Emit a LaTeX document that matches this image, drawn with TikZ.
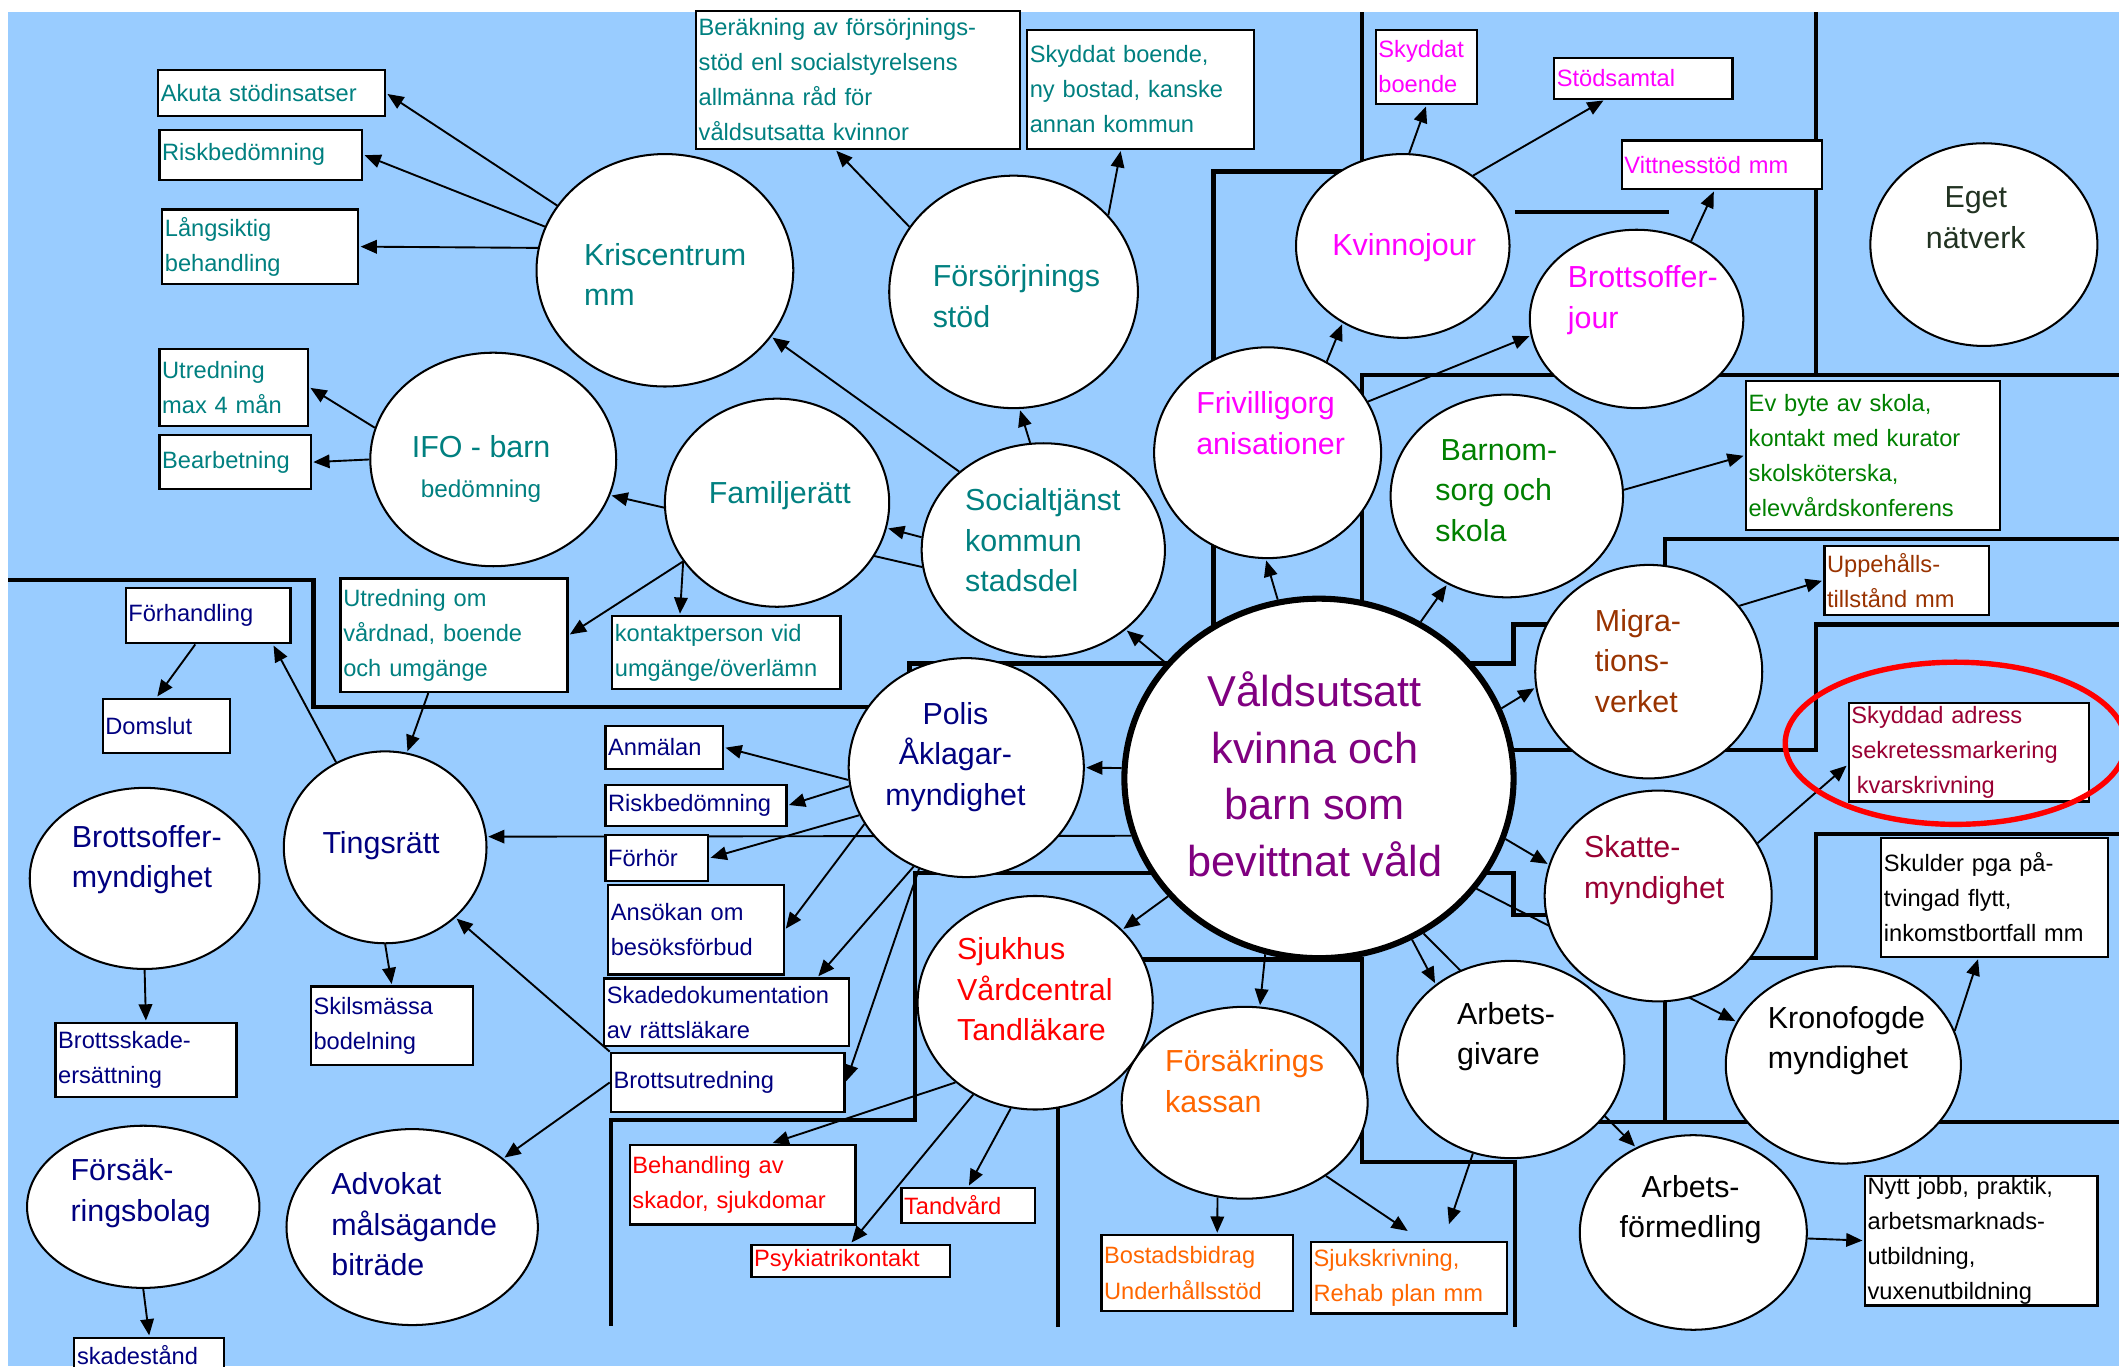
\documentclass[tikz,border=0pt]{standalone}
\usepackage{fontspec}
\setmainfont{Liberation Sans}
\usetikzlibrary{arrows.meta,shapes.geometric,backgrounds}

\definecolor{skyblue}{RGB}{153,204,255}
\definecolor{tealc}{RGB}{0,128,128}
\definecolor{magc}{RGB}{255,0,255}
\definecolor{greenc}{RGB}{0,128,0}
\definecolor{brownc}{RGB}{153,51,0}
\definecolor{maroonc}{RGB}{153,0,51}
\definecolor{navyc}{RGB}{0,0,128}
\definecolor{redc}{RGB}{255,0,0}
\definecolor{orangec}{RGB}{255,102,0}
\definecolor{purplec}{RGB}{128,0,128}
\definecolor{egetc}{RGB}{34,51,34}

\begin{document}
\begin{tikzpicture}[x=1pt,y=-1pt,>={Triangle[length=12pt,width=10pt]},
    bubble/.style={ellipse,draw,fill=white,line width=1.5pt,inner sep=0pt},
    btext/.style={font=\fontsize{22.5}{30}\selectfont,align=left,inner sep=0pt},
    box/.style={draw,fill=white,line width=1.7pt,font=\fontsize{17.5}{26}\selectfont,
                align=left,inner xsep=2pt,inner ysep=0pt},
    wall/.style={line width=3.2pt},
    link/.style={->,line width=1.4pt,shorten >=1pt}]

    \useasboundingbox (0,0) rectangle (1568,1011);

    % circles
    \node[bubble,minimum width=190pt,minimum height=172pt] (kris) at (492,200) {};
    \node[bubble,minimum width=184pt,minimum height=172pt] (fors) at (750,216) {};
    \node[bubble,minimum width=182pt,minimum height=158pt] (ifo) at (365,340) {};
    \node[bubble,minimum width=166pt,minimum height=154pt] (famr) at (575,372) {};
    \node[bubble,minimum width=180pt,minimum height=158pt] (soc) at (772,407) {};
    \node[bubble,minimum width=168pt,minimum height=156pt] (friv) at (938,335) {};
    \node[bubble,minimum width=158pt,minimum height=136pt] (kvin) at (1038,182) {};
    \node[bubble,minimum width=158pt,minimum height=132pt] (bjour) at (1211,236) {};
    \node[bubble,minimum width=168pt,minimum height=150pt] (eget) at (1468,181) {};
    \node[bubble,minimum width=172pt,minimum height=150pt] (barn) at (1115,367) {};
    \node[bubble,line width=4.5pt,minimum width=288pt,minimum height=266pt] (vald) at (976,576) {};
    \node[bubble,minimum width=168pt,minimum height=158pt] (migr) at (1220,497) {};
    \node[bubble,minimum width=168pt,minimum height=156pt] (skat) at (1227,663) {};
    \node[bubble,minimum width=168pt,minimum height=146pt] (agiv) at (1118,784) {};
    \node[bubble,minimum width=174pt,minimum height=146pt] (kron) at (1364,788) {};
    \node[bubble,minimum width=168pt,minimum height=144pt] (afor) at (1253,912) {};
    \node[bubble,minimum width=182pt,minimum height=142pt] (fkas) at (921,816) {};
    \node[bubble,minimum width=174pt,minimum height=158pt] (sjuk) at (766,742) {};
    \node[bubble,minimum width=174pt,minimum height=162pt] (polis) at (715,568) {};
    \node[bubble,minimum width=150pt,minimum height=142pt] (ting) at (285,627) {};
    \node[bubble,minimum width=170pt,minimum height=134pt] (bomy) at (107,650) {};
    \node[bubble,minimum width=172pt,minimum height=120pt] (fbol) at (106,893) {};
    \node[bubble,minimum width=186pt,minimum height=145pt] (advo) at (305,908) {};

    % circle texts
    \node[btext,text=tealc,anchor=west] (kris-t) at (432,203) {Kriscentrum\\mm};
    \node[btext,text=tealc,anchor=west] (fors-t) at (690,219) {Försörjnings\\stöd};
    \node[btext,text=tealc,align=center] (ifo-t) at (356,347) {IFO - barn\\{\fontsize{18}{30}\selectfont bedömning}};
    \node[btext,text=tealc] (famr-t) at (577,367) {Familjerätt};
    \node[btext,text=tealc,anchor=west] (soc-t) at (714,400) {Socialtjänst\\kommun\\stadsdel};
    \node[btext,text=magc,anchor=west] (friv-t) at (885,313) {Frivilligorg\\anisationer};
    \node[btext,text=magc] (kvin-t) at (1039,183) {Kvinnojour};
    \node[btext,text=magc,anchor=west] (bjour-t) at (1160,222) {Brottsoffer-\\jour};
    \node[btext,text=egetc,align=center] (eget-t) at (1462,161) {Eget\\nätverk};
    \node[btext,text=greenc,anchor=west] (barn-t) at (1062,363) {\,Barnom-\\sorg och\\skola};
    \node[font=\fontsize{32}{42}\selectfont,align=center,inner sep=0pt,text=purplec] (vald-t) at (973,573)
        {Våldsutsatt\\kvinna och\\barn som\\bevittnat våld};
    \node[btext,text=brownc,anchor=west] (migr-t) at (1180,489) {Migra-\\tions-\\verket};
    \node[btext,text=maroonc,anchor=west] (skat-t) at (1172,644) {Skatte-\\myndighet};
    \node[btext,anchor=west] (agiv-t) at (1078,767) {Arbets-\\givare};
    \node[btext,anchor=west] (kron-t) at (1308,770) {Kronofogde\\myndighet};
    \node[btext,align=center] (afor-t) at (1251,895) {Arbets-\\förmedling};
    \node[btext,text=orangec,anchor=west] (fkas-t) at (862,800) {Försäkrings\\kassan};
    \node[btext,text=redc,anchor=west] (sjuk-t) at (708,732) {Sjukhus\\Vårdcentral\\Tandläkare};
    \node[btext,text=navyc,align=center] (polis-t) at (707,560) {Polis\\Åklagar-\\myndighet};
    \node[btext,text=navyc] (ting-t) at (282,626) {Tingsrätt};
    \node[btext,text=navyc,anchor=west] (bomy-t) at (53,636) {Brottsoffer-\\myndighet};
    \node[btext,text=navyc,anchor=west] (fbol-t) at (52,883) {Försäk-\\ringsbolag};
    \node[btext,text=navyc,anchor=west] (advo-t) at (245,906) {Advokat\\målsägande\\biträde};

    % boxes
    \node[box,text=tealc,text width=164pt,minimum height=34pt] (akuta) at (201,69) {Akuta stödinsatser};
    \node[box,text=tealc,text width=146pt,minimum height=37pt] (riskA) at (193,114.5) {Riskbedömning};
    \node[box,text=tealc,text width=141pt,minimum height=55pt] (lang) at (192.5,182.5) {Långsiktig\\behandling};
    \node[box,text=tealc,text width=106pt,minimum height=57pt] (utrmax) at (173,286.5) {Utredning\\max 4 mån};
    \node[box,text=tealc,text width=108pt,minimum height=40pt] (bearb) at (174,342) {Bearbetning};
    \node[box,text=tealc,text width=236pt,minimum height=102pt] (berakn) at (635,59)
        {Beräkning av försörjnings-\\stöd enl socialstyrelsens\\allmänna råd för\\våldsutsatta kvinnor};
    \node[box,text=tealc,text width=164pt,minimum height=88pt] (skyddb) at (844,66)
        {Skyddat boende,\\ny bostad, kanske\\annan kommun};
    \node[box,text=tealc,text width=164pt,minimum height=84pt] (utrvard) at (336,470)
        {Utredning om\\vårdnad, boende\\och umgänge};
    \node[box,text=tealc,text width=165pt,minimum height=54pt] (kontakt) at (537.5,483)
        {kontaktperson vid\\umgänge/överlämn};
    \node[box,text=magc,text width=71pt,minimum height=55pt] (skydd2) at (1055.5,49.5) {Skyddat\\boende};
    \node[box,text=magc,text width=128pt,minimum height=30pt] (stod) at (1216,58) {Stödsamtal};
    \node[box,text=magc,text width=144pt,minimum height=36pt] (vittne) at (1274,122) {Vittnesstöd mm};
    \node[box,text=greenc,text width=184pt,minimum height=110pt] (evbyte) at (1386,337)
        {Ev byte av skola,\\kontakt med kurator\\skolsköterska,\\elevvårdskonferens};
    \node[box,text=brownc,text width=118pt,minimum height=51pt] (uppeh) at (1411,429.5) {Uppehålls-\\tillstånd mm};
    \node[box,text=maroonc,text width=174pt,minimum height=73pt] (skyddadr) at (1457,556.5)
        {Skyddad adress\\sekretessmarkering\\\hspace{4pt}kvarskrivning};
    \node[box,text width=164pt,minimum height=88pt] (skulder) at (1476,664)
        {Skulder pga på-\\tvingad flytt,\\inkomstbortfall mm};
    \node[box,text width=168pt,minimum height=96pt] (nyttjobb) at (1466,918)
        {Nytt jobb, praktik,\\arbetsmarknads-\\utbildning,\\vuxenutbildning};
    \node[box,text=navyc,text width=118pt,minimum height=41pt] (forh) at (154,455.5) {Förhandling};
    \node[box,text=navyc,text width=90pt,minimum height=40pt] (doms) at (123,537) {Domslut};
    \node[box,text=navyc,text width=83pt,minimum height=32pt] (anm) at (491.5,553) {Anmälan};
    \node[box,text=navyc,text width=130pt,minimum height=30pt] (riskB) at (515,596) {Riskbedömning};
    \node[box,text=navyc,text width=72pt,minimum height=34pt] (forhor) at (486,635) {Förhör};
    \node[box,text=navyc,text width=126pt,minimum height=66pt] (ansok) at (515,688) {Ansökan om\\besöksförbud};
    \node[box,text=navyc,text width=177pt,minimum height=50pt] (skadedok) at (537.5,749)
        {Skadedokumentation\\av rättsläkare};
    \node[box,text=navyc,text width=169pt,minimum height=44pt] (butr) at (538.5,801) {Brottsutredning};
    \node[box,text=navyc,text width=116pt,minimum height=58pt] (skils) at (290,759) {Skilsmässa\\bodelning};
    \node[box,text=navyc,text width=130pt,minimum height=55pt] (bskade) at (108,784.5) {Brottsskade-\\ersättning};
    \node[box,text=navyc,text width=107pt,minimum height=26pt] (skadest) at (110.5,1003) {skadestånd};
    \node[box,text=redc,text width=163pt,minimum height=59pt] (behandl) at (549.5,876.5)
        {Behandling av\\skador, sjukdomar};
    \node[box,text=redc,text width=95pt,minimum height=26pt] (tandv) at (716.5,892) {Tandvård};
    \node[box,text=redc,text width=143pt,minimum height=24pt] (psyk) at (629.5,933) {Psykiatrikontakt};
    \node[box,text=orangec,text width=138pt,minimum height=56pt] (bostad) at (886,942)
        {Bostadsbidrag\\Underhållsstöd};
    \node[box,text=orangec,text width=141pt,minimum height=53pt] (sjukskr) at (1042.5,945.5)
        {Sjukskrivning,\\Rehab plan mm};

    % red ring round the address box
    \node[ellipse,draw=redc,line width=4pt,minimum width=252pt,minimum height=120pt] (ring) at (1447,550) {};

    \begin{scope}[on background layer]
        \fill[white] (0,0) rectangle (1568,1011);
        \fill[skyblue] (6,9) rectangle (1568,1011);

        % walls between the fields
        \draw[wall] (6,429) -- (232,429) -- (232,523) -- (673,523) -- (673,491)
                    -- (1120,491) -- (1120,462) -- (1180,462);
        \draw[wall] (1100,555) -- (1344,555) -- (1344,462) -- (1568,462);
        \draw[wall] (1232,430) -- (1232,399) -- (1568,399);
        \draw[wall] (1090,646) -- (1120,646) -- (1120,677) -- (1180,677);
        \draw[wall] (1280,709) -- (1344,709) -- (1344,617) -- (1568,617);
        \draw[wall] (858,646) -- (677,646) -- (677,829) -- (452,829) -- (452,981);
        \draw[wall] (783,982) -- (783,710) -- (1008,710) -- (1008,860) -- (1121,860) -- (1121,982);
        \draw[wall] (1232,720) -- (1232,830);
        \draw[wall] (1150,830) -- (1568,830);
        \draw[wall] (1008,9) -- (1008,127) -- (898,127) -- (898,470);
        \draw[wall] (1344,9) -- (1344,277.5) -- (1568,277.5);
        \draw[wall] (1008,455) -- (1008,277.5) -- (1344,277.5);
        \draw[wall] (1121,157) -- (1235,157);

        \path[link]
            (kris.149) edge (akuta.east)
            (kris.160) edge (riskA.east)
            (kris.170) edge (lang.east)
            (ifo.165) edge (utrmax.east)
            (ifo.west) edge (bearb.east)
            (famr.212) edge (utrvard.east)
            (famr.212) edge (kontakt.141)
            (soc.174) edge (famr.347)
            (soc.188) edge (ifo.343)
            (soc.137) edge (kris.328)
            (soc.97) edge (fors.273)
            (fors.148) edge (berakn.252)
            (fors.39) edge (skyddb.252)
            (vald.143) edge (soc.316)
            (vald.103) edge (friv.269)
            (vald.57) edge (barn.236)
            (vald.21) edge (migr.188)
            (vald.342) edge (skat.164)
            (vald.325) edge (kron.158)
            (vald.300) edge (agiv.135)
            (vald.304) edge (afor.124)
            (vald.253) edge (fkas.81)
            (vald.218) edge (sjuk.40)
            (vald.177) edge (polis.east)
            (vald.197) edge (ting.6)
            (polis.186) edge (anm.east)
            (polis.189) edge (riskB.east)
            (polis.204) edge (forhor.east)
            (polis.209) edge (ansok.east)
            (polis.242) edge (skadedok.21)
            (polis.245) edge (butr.east)
            (butr.north west) edge (ting.315)
            (butr.west) edge (advo.37)
            (ting.120) edge (forh.336)
            (forh.246) edge (doms.109)
            (utrvard.246) edge (ting.77)
            (ting.south) edge (skils.north)
            (bomy.south) edge (bskade.north)
            (fbol.south) edge (skadest.north)
            (sjuk.225) edge (behandl.55)
            (sjuk.236) edge (psyk.north)
            (sjuk.257) edge (tandv.north)
            (fkas.254) edge (bostad.63)
            (fkas.318) edge[shorten >=13pt] (sjukskr.70)
            (agiv.248) edge[shorten >=13pt] (sjukskr.47)
            (afor.357) edge (nyttjobb.west)
            (kron.17) edge (skulder.255)
            (skat.28) edge (skyddadr.186)
            (migr.36) edge (uppeh.west)
            (barn.3) edge (evbyte.west)
            (friv.57) edge (kvin.232)
            (friv.27) edge (bjour.189)
            (kvin.86) edge (skydd2.south)
            (kvin.45) edge (stod.209)
            (bjour.55) edge (vittne.254);
    \end{scope}

\end{tikzpicture}
\end{document}
